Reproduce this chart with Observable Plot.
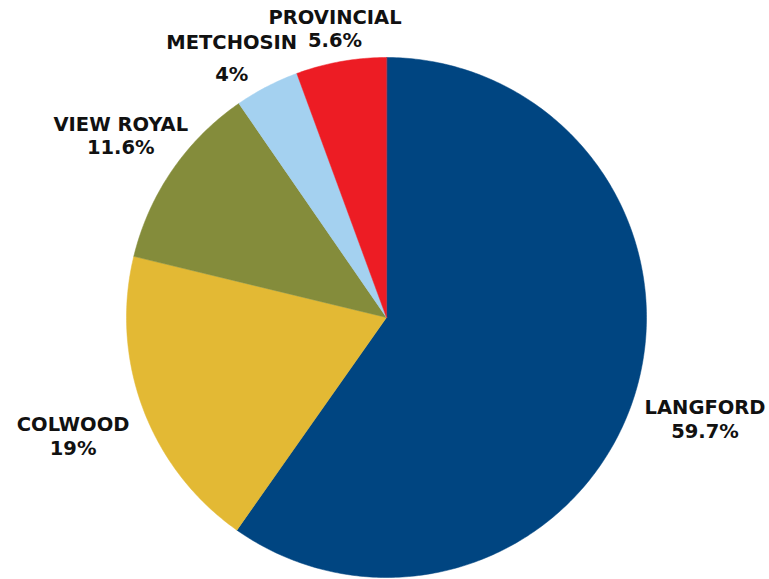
<!DOCTYPE html>
<html><head><meta charset="utf-8">
<script src="https://cdn.jsdelivr.net/npm/d3@7"></script>
<script src="https://cdn.jsdelivr.net/npm/@observablehq/plot@0.6"></script>
<style>body{margin:0;background:#fff}</style>
</head><body><div id="chart"></div>
<script>
const categories = ["LANGFORD", "COLWOOD", "VIEW ROYAL", "METCHOSIN", "PROVINCIAL"];
const shares = [59.7, 19, 11.6, 4, 5.6];
const colors = ["#004581", "#e3b934", "#848c3b", "#a4d1f0", "#ed1c24"];

// layout (not data)
const W = 769, H = 579, CX = 386, CY = 317, R = 260;
const labelK = {"LANGFORD": 1.285, "COLWOOD": 1.288, "VIEW ROYAL": 1.24, "METCHOSIN": 1.16, "PROVINCIAL": 1.13};

const rows = categories.map((c, i) => ({cat: c, share: shares[i]}));
const arcs = d3.pie().sort(null).value(d => d.share).startAngle(0).endAngle(2 * Math.PI)(rows);

const pts = [];
for (const a of arcs) {
  const n = Math.max(4, Math.ceil((a.endAngle - a.startAngle) * 80));
  pts.push({cat: a.data.cat, x: 0, y: 0});
  for (let j = 0; j <= n; j++) {
    const t = a.startAngle + (a.endAngle - a.startAngle) * j / n;
    pts.push({cat: a.data.cat, x: Math.sin(t), y: Math.cos(t)});
  }
}
const labels = arcs.map(a => {
  const m = (a.startAngle + a.endAngle) / 2, k = labelK[a.data.cat];
  return {cat: a.data.cat, pct: a.data.share + "%", x: k * Math.sin(m), y: k * Math.cos(m)};
});
const normal = labels.filter(d => d.cat !== "METCHOSIN");
const metch = labels.filter(d => d.cat === "METCHOSIN");

const font = "DejaVu Sans, sans-serif";
const chart = Plot.plot({
  width: W, height: H, margin: 0,
  style: {fontFamily: font, background: "#fff"},
  x: {domain: [-CX / R, (W - CX) / R], range: [0, W], axis: null},
  y: {domain: [-(H - CY) / R, CY / R], range: [H, 0], axis: null},
  color: {domain: categories, range: colors},
  marks: [
    Plot.line(pts, {x: "x", y: "y", z: "cat", fill: "cat", stroke: "cat", strokeWidth: 0.5, curve: "linear-closed"}),
    Plot.text(normal, {x: "x", y: "y", text: d => d.cat + "\n" + d.pct, fontSize: 19.5, fontWeight: "bold", fill: "#111", lineHeight: 1.2, textAnchor: "middle"}),
    Plot.text(metch, {x: "x", y: "y", dx: -16, dy: 5, text: d => d.cat + "\n" + d.pct, fontSize: 19.5, fontWeight: "bold", fill: "#111", lineHeight: 1.62, textAnchor: "middle"})
  ]
});
document.getElementById("chart").appendChild(chart);
</script>
</body></html>
